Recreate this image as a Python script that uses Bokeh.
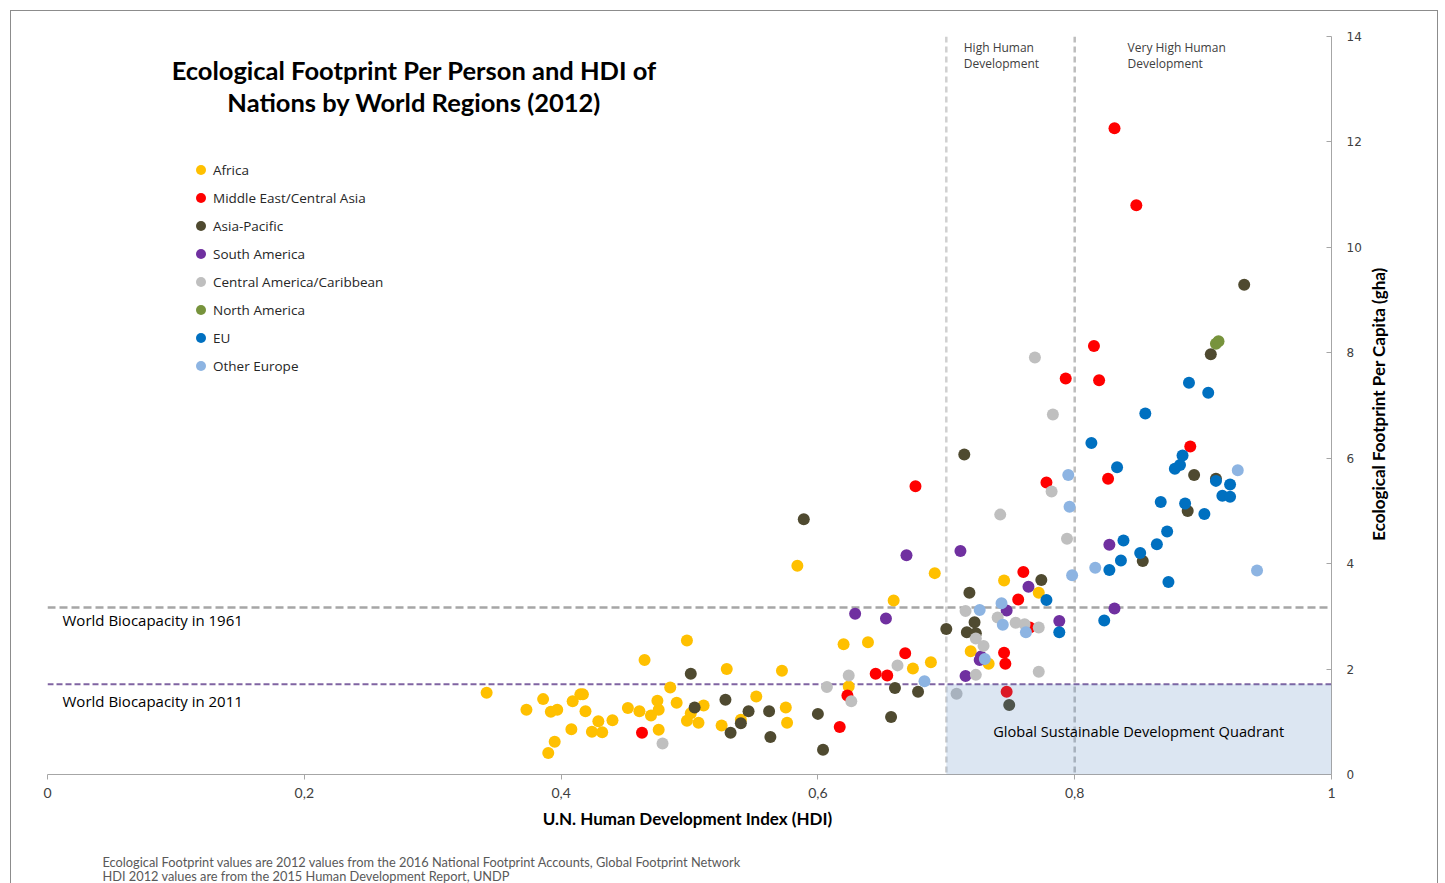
import math
from bokeh.plotting import figure
from bokeh.layouts import row, column
from bokeh.models import (ColumnDataSource, Span, BoxAnnotation, Label, FixedTicker,
                          Legend, LegendItem)
from bokeh.embed import file_html
from bokeh.resources import INLINE

# ---------------- data (HDI, Ecological Footprint gha per capita) ----------------
regions = ["Africa", "Middle East/Central Asia", "Asia-Pacific", "South America",
           "Central America/Caribbean", "North America", "EU", "Other Europe"]
colors = ["#FFC000", "#FF0000", "#4F4A30", "#7030A0", "#BFBFBF", "#77933C", "#0070C0", "#8DB4E2"]

africa_hdi = [0.342, 0.373, 0.386, 0.392, 0.397, 0.409, 0.415, 0.417, 0.419, 0.408, 0.395, 0.390,
              0.424, 0.429, 0.432, 0.440, 0.452, 0.461, 0.465, 0.470, 0.475, 0.476, 0.476, 0.485,
              0.490, 0.498, 0.501, 0.498, 0.507, 0.511, 0.529, 0.525, 0.540, 0.552, 0.572, 0.575,
              0.576, 0.584, 0.620, 0.639, 0.624, 0.659, 0.674, 0.688, 0.691, 0.719, 0.733, 0.745,
              0.772]
africa_ef = [1.55, 1.23, 1.43, 1.19, 1.23, 1.39, 1.52, 1.52, 1.20, 0.86, 0.62, 0.41,
             0.81, 1.01, 0.80, 1.03, 1.26, 1.20, 2.17, 1.12, 1.40, 1.23, 0.85, 1.65,
             1.36, 2.54, 1.16, 1.02, 0.98, 1.31, 2.00, 0.93, 1.04, 1.48, 1.97, 1.27,
             0.98, 3.96, 2.47, 2.51, 1.67, 3.30, 2.01, 2.13, 3.82, 2.34, 2.10, 3.68,
             3.45]

mecasia_hdi = [0.463, 0.617, 0.623, 0.645, 0.654, 0.668, 0.676, 0.745, 0.746, 0.747, 0.756,
               0.760, 0.765, 0.778, 0.793, 0.815, 0.819, 0.826, 0.831, 0.848, 0.890]
mecasia_ef = [0.79, 0.90, 1.50, 1.91, 1.88, 2.30, 5.47, 2.31, 2.10, 1.57, 3.32,
              3.84, 2.79, 5.54, 7.51, 8.13, 7.48, 5.61, 12.26, 10.80, 6.22]

asiapac_hdi = [0.501, 0.504, 0.528, 0.532, 0.540, 0.546, 0.562, 0.563, 0.589, 0.600, 0.604,
               0.657, 0.660, 0.678, 0.700, 0.714, 0.718, 0.722, 0.716, 0.723, 0.749, 0.774,
               0.853, 0.888, 0.893, 0.910, 0.906, 0.932]
asiapac_ef = [1.91, 1.27, 1.42, 0.79, 0.97, 1.20, 1.20, 0.71, 4.84, 1.15, 0.47,
              1.09, 1.64, 1.57, 2.76, 6.07, 3.45, 2.89, 2.70, 2.68, 1.32, 3.69,
              4.05, 5.00, 5.68, 5.61, 7.97, 9.29]

samerica_hdi = [0.629, 0.653, 0.669, 0.711, 0.715, 0.727, 0.726, 0.747, 0.764, 0.788, 0.827, 0.831]
samerica_ef = [3.05, 2.96, 4.16, 4.24, 1.87, 2.24, 2.17, 3.11, 3.56, 2.91, 4.36, 3.15]

camcarib_hdi = [0.479, 0.607, 0.624, 0.626, 0.662, 0.708, 0.715, 0.723, 0.729, 0.723, 0.740,
                0.742, 0.754, 0.761, 0.772, 0.772, 0.769, 0.783, 0.782, 0.794]
camcarib_ef = [0.59, 1.66, 1.88, 1.39, 2.07, 1.53, 3.10, 2.58, 2.44, 1.89, 2.98,
               4.93, 2.88, 2.85, 2.79, 1.95, 7.91, 6.83, 5.37, 4.47]

namerica_hdi = [0.910, 0.912]
namerica_ef = [8.17, 8.22]

eu_hdi = [0.778, 0.788, 0.813, 0.823, 0.827, 0.833, 0.836, 0.838, 0.851, 0.855, 0.864, 0.867,
          0.872, 0.873, 0.878, 0.882, 0.884, 0.886, 0.889, 0.901, 0.904, 0.910, 0.915, 0.921,
          0.921]
eu_ef = [3.31, 2.70, 6.29, 2.92, 3.88, 5.83, 4.06, 4.44, 4.20, 6.85, 4.37, 5.17,
         4.61, 3.65, 5.80, 5.87, 6.05, 5.14, 7.43, 4.94, 7.24, 5.57, 5.29, 5.27,
         5.50]

otheur_hdi = [0.683, 0.726, 0.730, 0.743, 0.744, 0.762, 0.795, 0.796, 0.798, 0.816, 0.927, 0.942]
otheur_ef = [1.77, 3.12, 2.19, 3.25, 2.84, 2.70, 5.68, 5.08, 3.78, 3.92, 5.77, 3.87]

series_hdi = [africa_hdi, mecasia_hdi, asiapac_hdi, samerica_hdi, camcarib_hdi,
              namerica_hdi, eu_hdi, otheur_hdi]
series_ef = [africa_ef, mecasia_ef, asiapac_ef, samerica_ef, camcarib_ef,
             namerica_ef, eu_ef, otheur_ef]

x_ticks = [0, 0.2, 0.4, 0.6, 0.8, 1]
x_tick_labels = ["0", "0,2", "0,4", "0,6", "0,8", "1"]
y_ticks = [0, 2, 4, 6, 8, 10, 12, 14]

biocap_1961 = 3.17
biocap_2011 = 1.71
high_hdi = 0.7
very_high_hdi = 0.8

y_title = "Ecological Footprint Per Capita (gha)"
footnotes = ["Ecological Footprint values are 2012 values from the 2016 National "
             "Footprint Accounts, Global Footprint Network",
             "HDI 2012 values are from the 2015 Human Development Report, UNDP"]

# ---------------- main figure ----------------
p = figure(width=1353, height=820, x_range=(0, 1), y_range=(0, 14),
           output_backend="svg", toolbar_location=None, y_axis_location="right",
           min_border_left=36, min_border_right=32, min_border_top=25, min_border_bottom=56)
p.outline_line_color = None
p.xgrid.visible = False
p.ygrid.visible = False
p.background_fill_color = "white"
p.border_fill_color = "white"

# x axis
p.xaxis.ticker = FixedTicker(ticks=x_ticks)
p.xaxis.major_label_overrides = {t: l for t, l in zip(x_ticks, x_tick_labels)}
p.xaxis.axis_label = "U.N. Human Development Index  (HDI)"
p.xaxis.axis_label_text_font = "Lato"
p.xaxis.axis_label_text_font_style = "bold"
p.xaxis.axis_label_text_font_size = "17px"
p.xaxis.axis_label_text_color = "#000000"
p.xaxis.axis_label_standoff = 7
p.xaxis.major_label_text_font = "Lato"
p.xaxis.major_label_text_font_size = "14px"
p.xaxis.major_label_text_color = "#404040"
p.xaxis.major_label_standoff = 8
p.xaxis.axis_line_color = "#a6a6a6"
p.xaxis.major_tick_line_color = "#a6a6a6"
p.xaxis.major_tick_out = 5
p.xaxis.major_tick_in = 0
p.xaxis.minor_tick_line_color = None

# y axis (right) with ticks
p.yaxis.ticker = FixedTicker(ticks=y_ticks)
p.yaxis.major_label_text_font = "DejaVu Sans"
p.yaxis.major_label_text_font_size = "12px"
p.yaxis.major_label_text_color = "#404040"
p.yaxis.major_label_standoff = 15
p.yaxis.axis_line_color = "#a6a6a6"
p.yaxis.major_tick_line_color = "#a6a6a6"
p.yaxis.major_tick_out = 0
p.yaxis.major_tick_in = 5
p.yaxis.minor_tick_line_color = None

# reference lines
p.add_layout(Span(location=high_hdi, dimension="height", line_color="#d0d0d0",
                  line_width=2.5, line_dash="6 4", level="underlay"))
p.add_layout(Span(location=very_high_hdi, dimension="height", line_color="#bdbdbd",
                  line_width=2.5, line_dash="6 4", level="underlay"))
p.add_layout(Span(location=biocap_1961, dimension="width", line_color="#a6a6a6",
                  line_width=2.5, line_dash="8 4", level="underlay"))
p.add_layout(Span(location=biocap_2011, dimension="width", line_color="#8064a2",
                  line_width=2, line_dash="6 3", level="underlay"))

# scatter series
items = []
for name, col, xs, ys in zip(regions, colors, series_hdi, series_ef):
    src = ColumnDataSource(dict(x=xs, y=ys))
    r = p.scatter("x", "y", source=src, size=12, fill_color=col, line_color=None)
    items.append(LegendItem(label=name, renderers=[r]))

# shaded quadrant (drawn on top, semi-transparent)
p.add_layout(BoxAnnotation(left=high_hdi, right=1.0, bottom=0, top=biocap_2011,
                           fill_color="#4F81BD", fill_alpha=0.2, line_color=None))

legend = Legend(items=items, location=(141, 396), orientation="vertical",
                glyph_width=25, glyph_height=25, label_height=20, spacing=3,
                label_standoff=0, padding=0, margin=0,
                label_text_font="Open Sans", label_text_font_size="13.5px",
                label_text_color="#262626", border_line_color=None,
                background_fill_alpha=0)
p.add_layout(legend)


def lab(fig, x, y, text, size, font="Open Sans", style="normal", color="#262626",
        align="left", angle=0.0):
    fig.add_layout(Label(x=x, y=y, text=text, text_font=font, text_font_size=size,
                         text_font_style=style, text_color=color, text_align=align,
                         text_baseline="middle", angle=angle))


lab(p, 0.2856, 13.37, "Ecological Footprint Per Person and HDI of", "25.5px", font="Lato",
    style="bold", color="#000000", align="center")
lab(p, 0.2856, 12.75, "Nations by World Regions (2012)", "25.5px", font="Lato",
    style="bold", color="#000000", align="center")
lab(p, 0.7136, 13.79, "High Human", "12px", color="#404040")
lab(p, 0.7136, 13.49, "Development", "12px", color="#404040")
lab(p, 0.8412, 13.79, "Very High Human", "12px", color="#404040")
lab(p, 0.8412, 13.49, "Development", "12px", color="#404040")
lab(p, 0.0117, 2.936, "World Biocapacity in 1961", "15px", color="#000000")
lab(p, 0.0117, 1.402, "World Biocapacity in 2011", "15px", color="#000000")
lab(p, 0.8498, 0.833, "Global Sustainable Development Quadrant", "14.6px", color="#000000",
    align="center")


def blank(w, h):
    f = figure(width=w, height=h, x_range=(0, 1), y_range=(0, 1), output_backend="svg",
               toolbar_location=None, x_axis_location=None, y_axis_location=None,
               min_border=0)
    f.outline_line_color = None
    f.xgrid.visible = False
    f.ygrid.visible = False
    f.background_fill_color = "white"
    f.border_fill_color = "white"
    return f


# strip right of the main plot: y axis title, reading bottom-to-top
p_ytitle = blank(73, 820)
lab(p_ytitle, 0.185, 0.502, y_title, "17px", font="Lato", style="bold", color="#000000",
    align="center", angle=math.pi / 2)

# strip below: source notes
p_notes = blank(1426, 52)
lab(p_notes, 0.0638, 0.423, footnotes[0], "12.8px", font="Lato", color="#595959")
lab(p_notes, 0.0638, 0.14, footnotes[1], "12.8px", font="Lato", color="#595959")

layout = column(row(p, p_ytitle, spacing=0), p_notes, spacing=0,
                styles={"margin-left": "10px", "margin-top": "10px",
                        "border-left": "1px solid #8c8c8c", "border-top": "1px solid #8c8c8c",
                        "border-right": "1px solid #8c8c8c"})

open("out.html", "w").write(file_html(layout, INLINE))
